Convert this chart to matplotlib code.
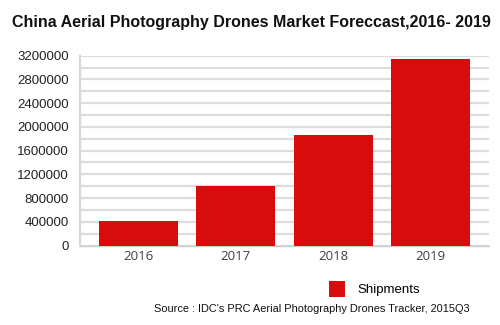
import matplotlib
matplotlib.use("Agg")
import matplotlib.pyplot as plt

years = ["2016", "2017", "2018", "2019"]
shipments = [410000, 1000000, 1855000, 3150000]
yticks = [0, 400000, 800000, 1200000, 1600000, 2000000, 2400000, 2800000, 3200000]
title = "China Aerial Photography Drones Market Foreccast,2016- 2019"
source = "Source : IDC's PRC Aerial Photography Drones Tracker, 2015Q3"

red = "#D80C0C"
fig = plt.figure(figsize=(5, 3.25), dpi=100)
ax = fig.add_axes([0.16, 0.2446, 0.818, 0.584])

x = range(len(years))
bars = ax.bar(x, shipments, width=0.81, color=red, label="Shipments", zorder=3)
ax.set_xlim(-0.6, 3.6)
ax.set_ylim(0, 3200000)
ax.set_yticks(yticks)
ax.set_yticklabels([str(v) for v in yticks], fontsize=9.5, family="Liberation Sans", color="#222222")
ax.set_yticks(range(0, 3200001, 200000), minor=True)
ax.set_xticks(list(x))
ax.set_xticklabels(years, fontsize=9.5, family="Open Sans", color="#404040")
ax.tick_params(axis="both", which="both", length=0)
ax.tick_params(axis="y", pad=8)
ax.tick_params(axis="x", pad=3)
ax.grid(axis="y", which="both", color="#dcdcdc", linewidth=1.6, zorder=0)
for s in ["top", "right"]:
    ax.spines[s].set_visible(False)
ax.spines["left"].set_color("#d8d8d8")
ax.spines["left"].set_linewidth(1.6)
ax.spines["bottom"].set_color("#cccccc")
ax.spines["bottom"].set_linestyle((0, (1, 1)))
ax.spines["bottom"].set_linewidth(1.0)

fig.text(251 / 500, 1 - 22 / 325, title, ha="center", va="center", fontsize=11.5,
         fontweight="bold", family="Liberation Sans", color="#111111")
fig.legend(handles=[bars], loc="center left", bbox_to_anchor=(320 / 500, 1 - 289 / 325),
           frameon=False, prop={"family": "Liberation Sans", "size": 9.5},
           handlelength=1.2, handleheight=1.6, handletextpad=0.9, borderpad=0.2)
fig.text(470 / 500, 1 - 309 / 325, source, ha="right", va="center", fontsize=7.9,
         family="Liberation Sans", color="#111111")
fig.savefig("out.png", dpi=100)
